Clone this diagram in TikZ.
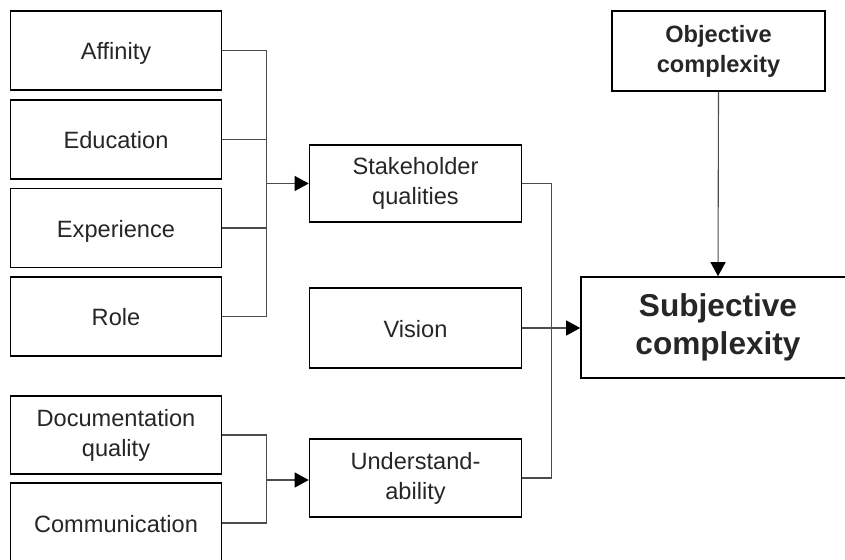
\documentclass[tikz,border=0pt]{standalone}
\usepackage{fontspec}
\setmainfont{Liberation Sans}
\usetikzlibrary{arrows.meta}
\begin{document}
\begin{tikzpicture}[x=1pt,y=-1pt,
  box/.style={draw=black,line width=1.6pt,align=center,inner sep=0pt,
    minimum width=211pt,minimum height=79pt,text=black!85,
    font=\fontsize{23.6}{30}\selectfont},
  single/.style={text height=18pt,text depth=0pt},
  link/.style={draw=black!70,line width=1.1pt},
  arrow/.style={link,-{Triangle[length=14pt,width=15pt,color=black]}}]
\useasboundingbox (0,0) rectangle (845,559);
\clip (0,0) rectangle (845,559);
% left column
\node [box,single] (Aff) at (116,50.5) {Affinity};
\node [box,single] (Edu) at (116,139.5) {Education};
\node [box,single] (Exp) at (116,228) {Experience};
\node [box,single] (Role) at (116,316.5) {Role};
\node [box,minimum height=78pt] (Doc) at (116,435) {Documentation\\quality};
\node [box,single,minimum height=80pt] (Com) at (116,523) {Communication};
% middle column
\node [box,minimum width=212pt,minimum height=77pt] (Stake) at (415.5,183.5) {Stakeholder\\qualities};
\node [box,single,minimum width=212pt,minimum height=80pt] (Vis) at (415.5,328) {Vision};
\node [box,minimum width=212pt,minimum height=78pt] (Und) at (415.5,478) {Understand-\\ability};
% right column
\node [box,minimum width=213pt,minimum height=80pt,font=\fontsize{23.6}{30}\selectfont\bfseries] (Obj) at (718.5,51) {Objective\\complexity};
\node [box,minimum width=274pt,minimum height=101pt,font=\fontsize{31.6}{38}\selectfont\bfseries] (Subj) at (718,327.5) {Subjective\\complexity};
% buses
\coordinate (BusA) at (266.7,183.5);
\coordinate (BusB) at (266.7,480);
\coordinate (BusC) at (551.7,328);
\foreach \n in {Aff,Edu,Exp,Role} \draw [link] (\n.east) -| (BusA);
\draw [arrow] (BusA) -- (BusA -| Stake.west);
\foreach \n in {Doc,Com} \draw [link] (\n.east) -| (BusB);
\draw [arrow] (BusB) -- (BusB -| Und.west);
\foreach \n in {Stake,Und} \draw [link] (\n.east) -| (BusC);
\draw [arrow] (Vis.east) -- (Vis.east -| Subj.west);
\draw [arrow] (Obj.south) -- (Subj.north);
\end{tikzpicture}
\end{document}
